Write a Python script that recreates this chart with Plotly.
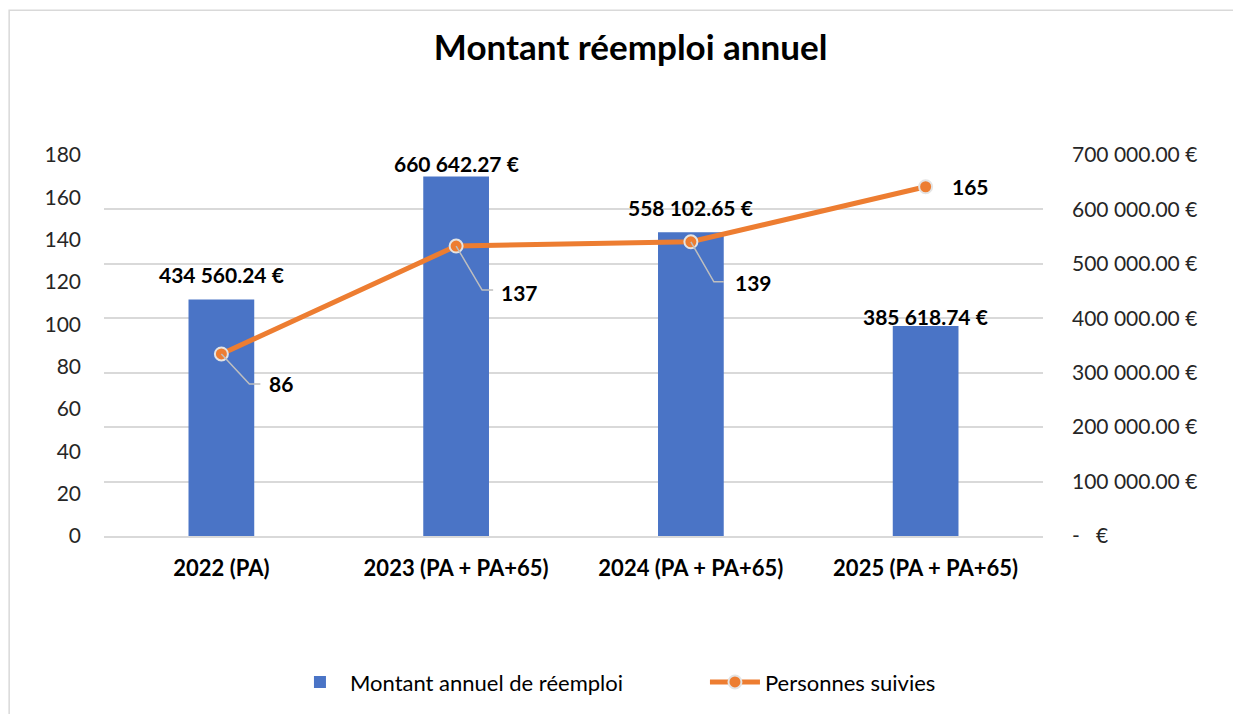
import plotly.graph_objects as go

# chart data
categories = ["2022 (PA)", "2023 (PA + PA+65)", "2024 (PA + PA+65)", "2025 (PA + PA+65)"]
montants = [434560.24, 660642.27, 558102.65, 385618.74]
personnes = [86, 137, 139, 165]

left_ticks = [0, 20, 40, 60, 80, 100, 120, 140, 160, 180]
right_tickvals = [0, 100000, 200000, 300000, 400000, 500000, 600000, 700000]
right_ticktext = ["-   €", "100 000.00 €", "200 000.00 €", "300 000.00 €",
                  "400 000.00 €", "500 000.00 €", "600 000.00 €", "700 000.00 €"]

FONT = "Lato"
BLUE = "#4A74C6"
ORANGE = "#ED7D31"
GRID = "#D9D9D9"


def euro(v):
    return f"{v:,.2f}".replace(",", " ") + " €"


fig = go.Figure()

# bars on the primary (right-hand, euro) axis so the line is drawn on top
fig.add_trace(go.Bar(
    x=categories, y=montants, name="Montant annuel de réemploi",
    marker=dict(color=BLUE, line=dict(width=0)), width=0.28, yaxis="y",
))
fig.add_trace(go.Scatter(
    x=categories, y=personnes, name="Personnes suivies", mode="lines+markers",
    line=dict(color=ORANGE, width=5),
    marker=dict(color=ORANGE, size=13, line=dict(color="#E4E4E4", width=2)),
    yaxis="y2",
))

# bar value labels (manually offset above the bars, as in the source)
bar_label_shift = [25, 13, 25, 10]
for i, (c, v) in enumerate(zip(categories, montants)):
    fig.add_annotation(x=c, y=v, yref="y", text=f"<b>{euro(v)}</b>", showarrow=False,
                       yshift=bar_label_shift[i], font=dict(family=FONT, size=21, color="#000000"))

# line value labels with leader lines (pixel offsets from the marker)
label_dx = [46, 43, 42, 24]
label_dy = [-30, -46, -41, 0]
leaders = ["M0,0 L28,-30 L39,-30", "M0,0 L26,-44 L37,-44", "M0,0 L23,-40 L33,-40", None]
for i, (c, p) in enumerate(zip(categories, personnes)):
    if leaders[i]:
        fig.add_shape(type="path", xref="x", yref="y2", xsizemode="pixel", ysizemode="pixel",
                      xanchor=i, yanchor=p, path=leaders[i],
                      line=dict(color="#BFBFBF", width=1.5), layer="above")
    fig.add_annotation(x=c, y=p, yref="y2", text=f"<b>{p}</b>", showarrow=False,
                       xanchor="left", xshift=label_dx[i], yshift=label_dy[i],
                       font=dict(family=FONT, size=21, color="#000000"))

# chart frame
fig.add_shape(type="rect", xref="paper", yref="paper", x0=-0.101, x1=1.3, y0=-0.6, y1=1.38,
              line=dict(color=GRID, width=1.5), fillcolor="rgba(0,0,0,0)", layer="below")

fig.update_layout(
    width=1233, height=706,
    margin=dict(l=96, r=198, t=147, b=177),
    paper_bgcolor="white", plot_bgcolor="white",
    font=dict(family=FONT, size=21, color="#262626"),
    title=dict(text="<b>Montant réemploi annuel</b>", x=0.505, xanchor="center",
               y=0.943, yref="container", yanchor="middle",
               font=dict(family=FONT, size=35, color="#000000")),
    xaxis=dict(showgrid=False, showline=True, linecolor=GRID, linewidth=1.5, ticks="",
               ticklabelstandoff=12, tickfont=dict(family=FONT, size=22, color="#000000"),
               tickprefix="<b>", ticksuffix="</b>"),
    yaxis=dict(range=[0, 700000], tickvals=right_tickvals, ticktext=right_ticktext,
               side="right", showgrid=True, gridcolor=GRID, gridwidth=1.5,
               zeroline=False, showline=False, ticklabelstandoff=28),
    yaxis2=dict(range=[0, 180], tickvals=left_ticks, showgrid=False, zeroline=False,
                overlaying="y", side="left", showline=False, ticklabelstandoff=22),
    legend=dict(orientation="h", x=0.64, xanchor="center", y=-0.38, yanchor="middle",
                font=dict(family=FONT, size=22, color="#000000"), traceorder="normal",
                itemwidth=50, entrywidth=350),
    showlegend=True,
)

fig.write_html("out.html")
